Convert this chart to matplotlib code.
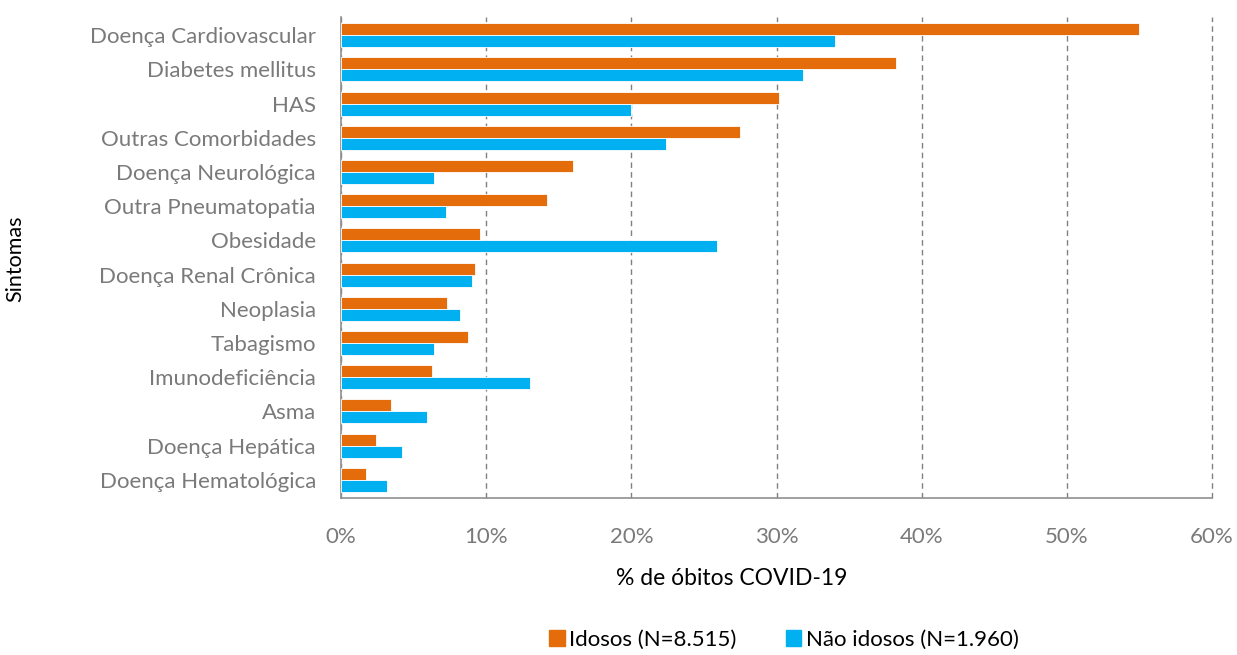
import matplotlib
matplotlib.use("Agg")
import matplotlib.pyplot as plt
import numpy as np
from matplotlib.patches import Patch
from matplotlib.ticker import PercentFormatter

categories = ["Doença Cardiovascular", "Diabetes mellitus", "HAS", "Outras Comorbidades",
              "Doença Neurológica", "Outra Pneumatopatia", "Obesidade", "Doença Renal Crônica",
              "Neoplasia", "Tabagismo", "Imunodeficiência", "Asma", "Doença Hepática",
              "Doença Hematológica"]
idosos = [55.0, 38.2, 30.2, 27.5, 16.0, 14.2, 9.6, 9.25, 7.3, 8.75, 6.3, 3.45, 2.4, 1.75]
nao_idosos = [34.0, 31.8, 20.0, 22.4, 6.4, 7.2, 25.9, 9.0, 8.2, 6.4, 13.0, 5.9, 4.2, 3.2]
xticks = [0, 10, 20, 30, 40, 50, 60]

plt.rcParams['font.family'] = ['Lato', 'DejaVu Sans']
grey = "#7A7A7A"
orange = "#E46C0A"
blue = "#00B0F0"

fig = plt.figure(figsize=(12.37, 6.55), dpi=100)
ax = fig.add_axes([341/1237, 1-498/655, (1212-341)/1237, (498-17)/655])

y = np.arange(len(categories))
h = 0.35
ax.barh(y - h/2, idosos, height=h, color=orange, edgecolor="white", linewidth=0.6, zorder=3)
ax.barh(y + h/2, nao_idosos, height=h, color=blue, edgecolor="white", linewidth=0.6, zorder=3)

ax.set_ylim(len(categories) - 0.47, -0.53)
ax.set_xlim(0, 60)
ax.set_yticks(y)
ax.set_yticklabels(categories, fontsize=16, color=grey)
ax.set_xticks(xticks)
ax.xaxis.set_major_formatter(PercentFormatter(decimals=0))
ax.tick_params(axis='x', labelsize=16, labelcolor=grey, length=0, pad=21)
ax.tick_params(axis='y', length=0, pad=18)

ax.grid(axis='x', color="#808080", linestyle=(0, (4, 3)), linewidth=1.0, zorder=0)
for gl in ax.get_xgridlines():
    gl.set_clip_on(False)
for s in ["top", "right"]:
    ax.spines[s].set_visible(False)
for s in ["left", "bottom"]:
    ax.spines[s].set_color("#909090")
    ax.spines[s].set_linewidth(1.2)

ax.set_xlabel("% de óbitos COVID-19", fontsize=16.5, color="#000000")
ax.xaxis.set_label_coords(0.449, -0.145, transform=ax.transAxes)
ax.xaxis.label.set_va("top")
fig.text(15/1237, 1-259/655, "Sintomas", rotation=90, fontsize=15.5, ha="center", va="center")

handles = [Patch(color=orange, label="Idosos (N=8.515)"),
           Patch(color=blue, label="Não idosos (N=1.960)")]
fig.legend(handles=handles, loc="center", bbox_to_anchor=(784/1237, 1-640/655), ncol=2,
           frameon=False, fontsize=16, handlelength=0.7, handleheight=0.7,
           handletextpad=0.2, columnspacing=2.2)

fig.savefig("out.png", dpi=100)
